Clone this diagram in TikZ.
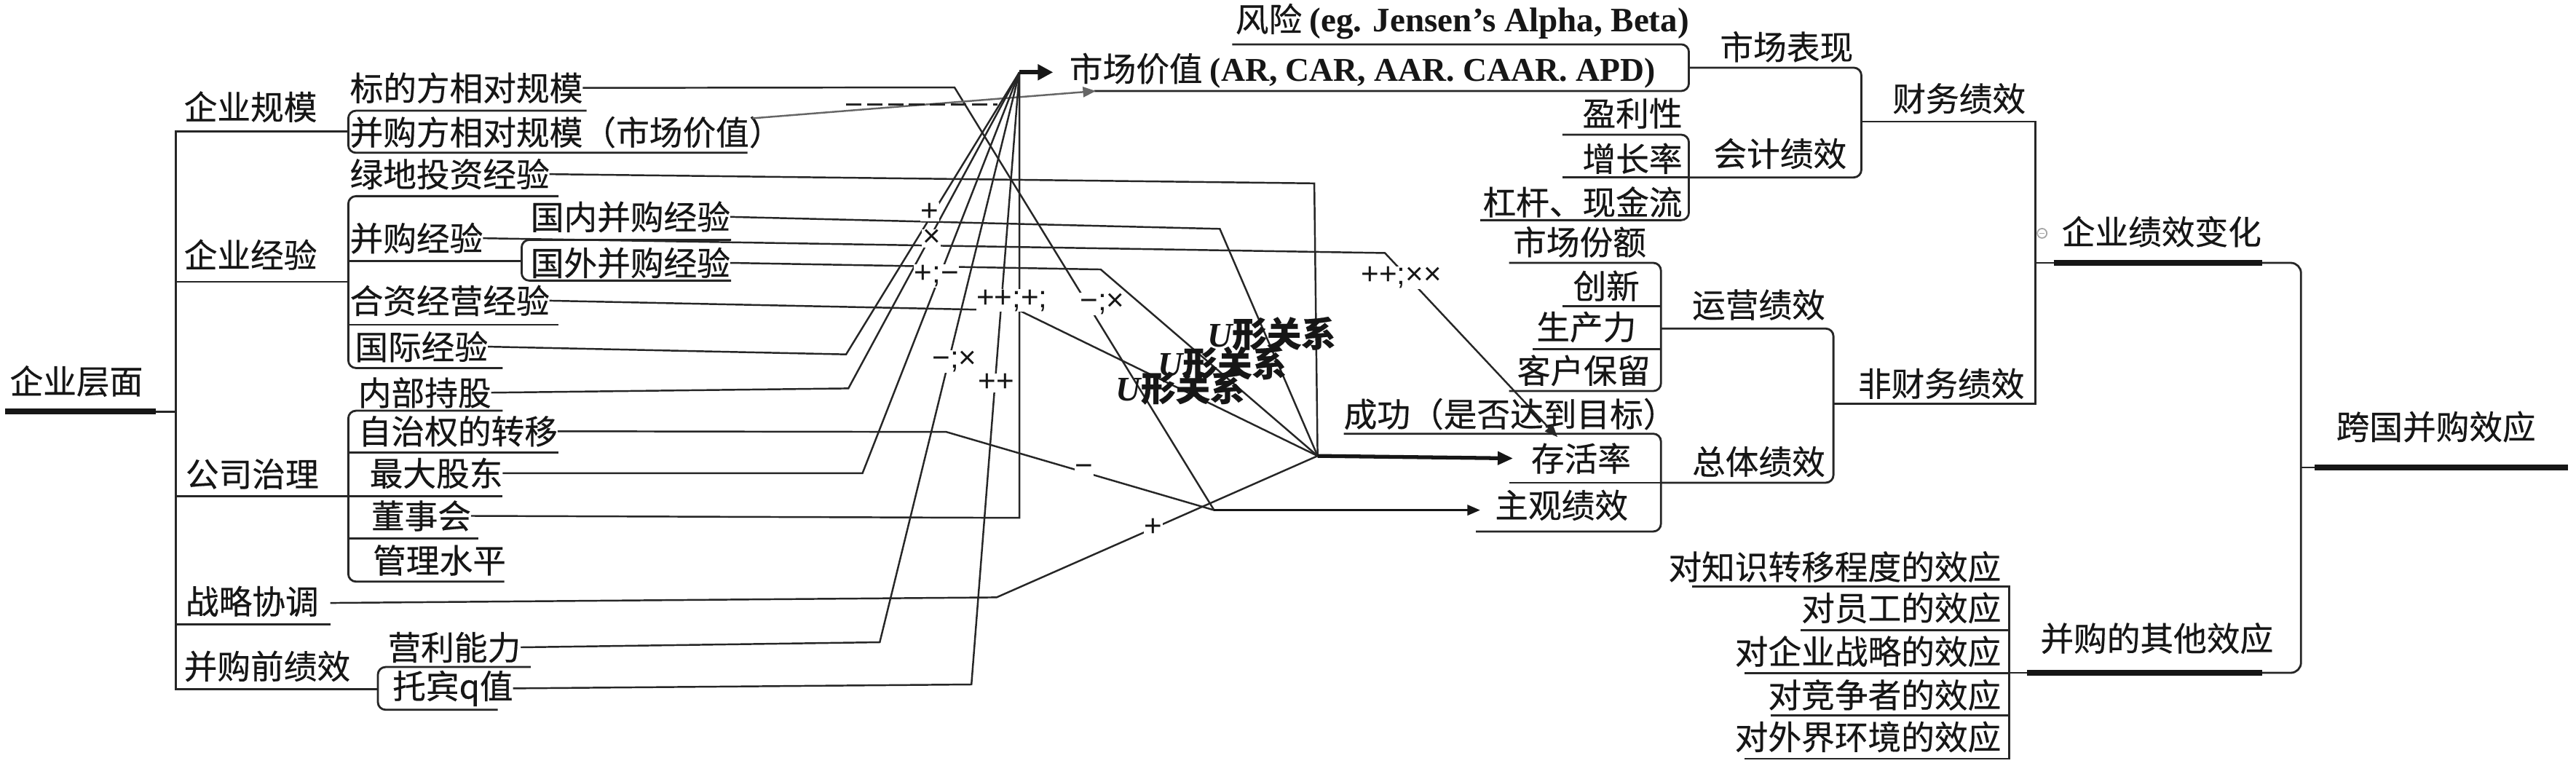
\documentclass[tikz,border=0pt]{standalone}
\usepackage{fontspec}
\setmainfont{Liberation Serif}
\newfontfamily\cjk[FakeBold=0.4]{Noto Sans CJK SC}
\newfontfamily\lsans{Liberation Sans}
\usetikzlibrary{arrows.meta}
\definecolor{txt}{HTML}{161616}
\definecolor{lc}{HTML}{262626}
\newcommand\cjkf{\cjk\fontsize{13}{15}\selectfont}
\newcommand\labf{\lsans\fontsize{12}{14}\selectfont}
\newcommand\ulabf{\fontsize{13.5}{15}\selectfont}
\newcommand\ulab{{\rmfamily\bfseries\itshape U}{\cjk\bfseries 形关系}}
\begin{document}
\begin{tikzpicture}[x=0.022564cm,y=-0.022564cm,
  tx/.style={anchor=west,inner sep=0pt,outer sep=0pt,font=\cjkf,text=txt},
  tr/.style={tx,anchor=east},
  ln/.style={draw=lc,line width=0.8pt},
  cn/.style={draw=lc,line width=0.7pt},
  thk/.style={draw=txt,line width=2.3pt},
  lab/.style={font=\labf,inner sep=0.2pt,fill=white,text=txt},
  ulabel/.style={font=\ulabf,inner sep=0pt,text=txt},
  arr/.style={-{Triangle[length=5pt,width=4pt]}}]
\useasboundingbox (0,0) rectangle (1568,466);
\fill[white] (0,0) rectangle (1568,466);

% ---------- left tree nodes ----------
\node[tx] (root) at (6,232) {企业层面};
\node[tx] (gm) at (112,65) {企业规模};
\node[tx] (jy) at (112,155) {企业经验};
\node[tx] (zl) at (113,288.5) {公司治理};
\node[tx] (xt) at (113,366) {战略协调};
\node[tx] (qj) at (112,405.5) {并购前绩效};
\node[tx] (bd) at (213,53.5) {标的方相对规模};
\node[tx] (bg) at (213,80.5) {并购方相对规模（市场价值）};
\node[tx] (ld) at (213,106) {绿地投资经验};
\node[tx] (bj) at (213,145) {并购经验};
\node[tx] (gn) at (323,132) {国内并购经验};
\node[tx] (gw) at (323,160) {国外并购经验};
\node[tx] (hz) at (213,183) {合资经营经验};
\node[tx] (gj) at (216,211) {国际经验};
\node[tx] (nb) at (218,239) {内部持股};
\node[tx] (zz) at (218,262.5) {自治权的转移};
\node[tx] (zd) at (225,288) {最大股东};
\node[tx] (ds) at (226,314) {董事会};
\node[tx] (gl) at (227,341) {管理水平};
\node[tx] (yl) at (236,394) {营利能力};
\node[tx] (tb) at (239,419) {托宾q值};

% ---------- left tree lines ----------
\draw[thk] (3,250.5) -- (95,250.5);
\draw[ln] (95,250.5) -- (107,250.5);
\draw[ln] (212,80) -- (107,80) -- (107,419.6) -- (230,419.6);
\draw[ln] (107,171.5) -- (212,171.5);
\draw[ln] (107,302) -- (212,302);
\draw[ln] (107,380) -- (201,380);
\draw[ln,rounded corners=3] (357,67.4) -- (212,67.4) -- (212,93) -- (455,93);
\draw[ln,rounded corners=3] (340,119.4) -- (212,119.4) -- (212,224) -- (306,224);
\draw[ln] (212,158.8) -- (317.5,158.8);
\draw[ln] (212,197.7) -- (340,197.7);
\draw[ln,rounded corners=3] (445,146) -- (317.5,146) -- (317.5,170.8) -- (445,170.8);
\draw[ln,rounded corners=3] (306,250) -- (212,250) -- (212,354) -- (307,354);
\draw[ln] (212,275.5) -- (340,275.5);
\draw[ln] (212,302) -- (306,302);
\draw[ln] (212,327.7) -- (291,327.7);
\draw[ln,rounded corners=3] (323,406) -- (230,406) -- (230,432) -- (303,432);

% ---------- right tree nodes ----------
\node[tx] (mv) at (651,43) {市场价值 {\rmfamily\bfseries (AR, CAR, AAR. CAAR. APD)}};
\node[tx] (fx) at (752,13) {风险 {\rmfamily\bfseries\fontsize{13.4}{15}\selectfont (eg. Jensen’s Alpha, Beta)}};
\node[tx] (scbx) at (1047,28.5) {市场表现};
\node[tr] (ylx) at (1024,69) {盈利性};
\node[tr] (zzl) at (1024,96.5) {增长率};
\node[tr] (gg) at (1024,123) {杠杆、现金流};
\node[tx] (kj) at (1043,93.5) {会计绩效};
\node[tx] (cw) at (1152,60) {财务绩效};
\node[tr] (fe) at (1002,147.3) {市场份额};
\node[tr] (cx) at (998,174) {创新};
\node[tr] (sc) at (996,199) {生产力};
\node[tr] (kh) at (1004.5,225.5) {客户保留};
\node[tx] (yy) at (1030,185.5) {运营绩效};
\node[tx] (fcw) at (1131,233.5) {非财务绩效};
\node[tx] (cg) at (818,252) {成功（是否达到目标）};
\node[tx] (ch) at (932,279) {存活率};
\node[tx] (zg) at (910,307.5) {主观绩效};
\node[tx] (zt) at (1030,281) {总体绩效};
\node[tx] (jx) at (1255,141) {企业绩效变化};
\node[tx] (kg) at (1422,259.7) {跨国并购效应};
\node[tx] (qt) at (1242,388.5) {并购的其他效应};
\node[tr] (e1) at (1218,345) {对知识转移程度的效应};
\node[tr] (e2) at (1218,370) {对员工的效应};
\node[tr] (e3) at (1218,396.5) {对企业战略的效应};
\node[tr] (e4) at (1218,423) {对竞争者的效应};
\node[tr] (e5) at (1218,448.5) {对外界环境的效应};

% ---------- right tree lines ----------
\draw[ln,rounded corners=3] (750,27) -- (1028,27) -- (1028,55.4) -- (666,55.4);
\draw[ln,rounded corners=3] (1028,41.2) -- (1133,41.2) -- (1133,108) -- (1028,108);
\draw[ln,rounded corners=3] (951,82) -- (1028,82) -- (1028,134) -- (901,134);
\draw[ln] (951,108) -- (1028,108);
\draw[ln] (1133,74) -- (1239,74) -- (1239,245.8) -- (1116,245.8);
\draw[ln,rounded corners=3] (918.5,160) -- (1011,160) -- (1011,238) -- (918.5,238);
\draw[ln] (951,186.5) -- (1011,186.5);
\draw[ln] (933,212.4) -- (1011,212.4);
\draw[ln,rounded corners=3] (1011,200) -- (1116,200) -- (1116,293.8) -- (1011,293.8);
\draw[ln,rounded corners=3] (818,264) -- (1011,264) -- (1011,323.5) -- (898.4,323.5);
\draw[ln] (918.5,293.8) -- (1011,293.8);
\draw[ln] (1239,160) -- (1250,160);
\draw[thk] (1250,160) -- (1377,160);
\draw[ln,rounded corners=4] (1377,160) -- (1400.6,160) -- (1400.6,409.5) -- (1377,409.5);
\draw[ln] (1400.6,284.5) -- (1409,284.5);
\draw[thk] (1409,284.5) -- (1563,284.5);
\draw[thk] (1234,409.5) -- (1377,409.5);
\draw[ln] (1223,409.5) -- (1234,409.5);
\draw[ln] (1030,357) -- (1223,357) -- (1223,461.8) -- (1062,461.8);
\draw[ln] (1096,383.5) -- (1223,383.5);
\draw[ln] (1062,409.6) -- (1223,409.6);
\draw[ln] (1078,435.6) -- (1223,435.6);
\node[circle,draw=gray!70,line width=0.5pt,fill=white,minimum size=0.13cm,inner sep=0pt] (ic) at (1243,142) {};
\draw[gray!70,line width=0.5pt] ([xshift=-0.035cm]ic.center) -- ([xshift=0.035cm]ic.center);

% ---------- connectors ----------
\coordinate (C0) at (620.5,44);
\coordinate (C1) at (802,277.5);
\coordinate (C2) at (739,310.5);
\coordinate (bgS) at (458,72);
\coordinate (mvT) at (641,44);
\coordinate (mvU) at (667,55.4);
\coordinate (chT) at (948,266);
\coordinate (chL) at (921,279);
\coordinate (zgL) at (901,310.5);
\coordinate (xtS) at (201,367);

\draw[cn] (bd.east) -- (581,53.2) -- (C2);
\draw[cn,draw=gray!80!black,arr] (bgS) -- (mvU);
\draw[cn,dash pattern=on 6pt off 2.2pt] (515,63.5) -- (607,63.5);
\draw[cn] (ld.east) -- (800,111.6) -- (C1);
\draw[cn] (gn.east) -- (742.5,139.3) -- (C1);
\draw[cn] (gw.east) -- (670,164) -- (C1);
\draw[cn,arr] (bj.east) -- (843,154) -- (chT);
\draw[cn] (hz.east) -- (620.5,189) -- (C1);
\draw[cn] (gj.east) -- (515,215.7) -- (C0);
\draw[cn] (nb.east) -- (516.4,236.4) -- (C0);
\draw[cn] (zz.east) -- (576,262.9) -- (C2);
\draw[cn] (zd.east) -- (525,288) -- (C0);
\draw[cn] (ds.east) -- (620.5,315.2) -- (C0);
\draw[cn] (xtS) -- (606.6,363.6) -- (C1);
\draw[cn] (yl.east) -- (535.5,390.9) -- (C0);
\draw[cn] (tb.east) -- (591.3,416.6) -- (C0);
\draw[draw=txt,line width=1.8pt,-{Triangle[length=6pt,width=6pt]}] (C0) -- (mvT);
\draw[draw=txt,line width=1.5pt,-{Triangle[length=6pt,width=5pt]}] (C1) -- (chL);
\draw[draw=txt,line width=0.9pt,arr] (C2) -- (zgL);

% ---------- labels ----------
\node[lab] at (566,129) {+};
\node[lab] at (567,145) {×};
\node[lab] at (570,168) {+;−};
\node[lab] at (616,183) {++;+;};
\node[lab] at (671,185) {−;×};
\node[lab] at (581,220) {−;×};
\node[lab] at (606.5,233) {++};
\node[lab] at (660,286) {−};
\node[lab] at (702,321) {+};
\node[lab] at (853,169) {++;××};
\node[ulabel] (u1) at (774,203) {\ulab};
\node[ulabel] (u2) at (744,221) {\ulab};
\node[ulabel] (u3) at (718.5,236) {\ulab};
\end{tikzpicture}
\end{document}
